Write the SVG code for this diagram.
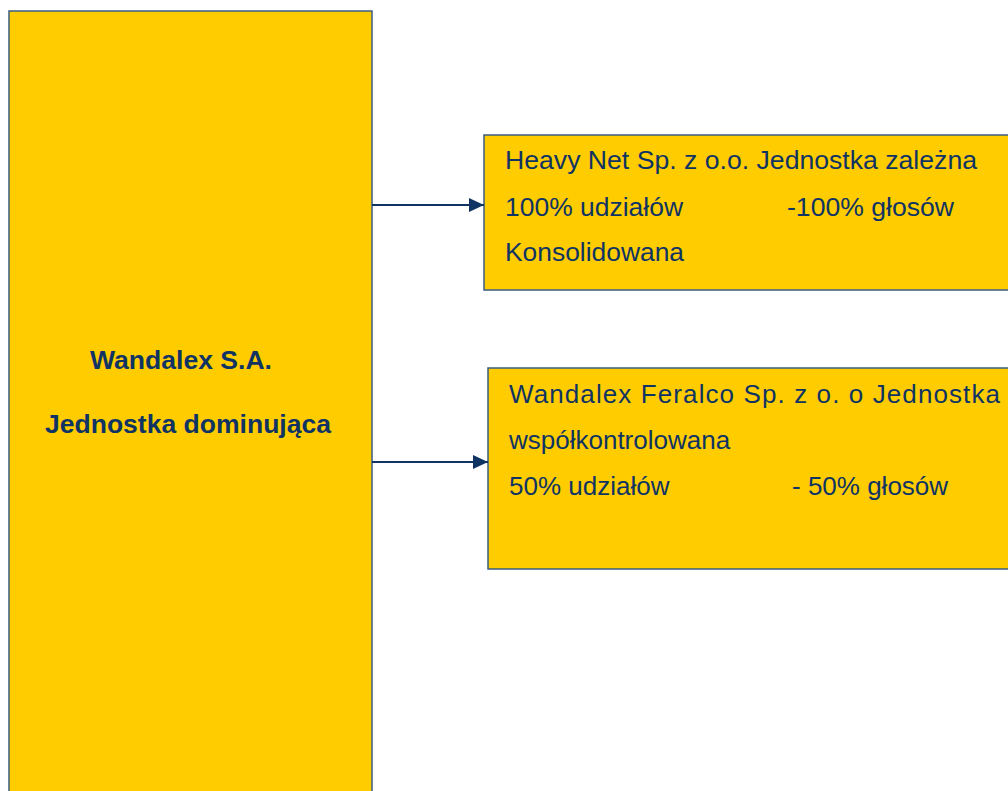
<svg xmlns="http://www.w3.org/2000/svg" width="1008" height="791" viewBox="0 0 1008 791">
<defs>
<style>
.box{fill:#FFCC00;stroke:#3B5C80;stroke-width:1.5}
.t{font-family:"Liberation Sans",Arial,sans-serif;font-size:26px;fill:#0F3463}
.b{font-weight:bold;font-size:25.5px}
.c{stroke:#0F3463;stroke-width:2;fill:none}
</style>
<marker id="ah" markerWidth="15" markerHeight="14" refX="15" refY="7" orient="auto" markerUnits="userSpaceOnUse">
<path d="M0,0 L15,7 L0,14 Z" fill="#0F3463"/>
</marker>
</defs>
<rect width="1008" height="791" fill="#fff"/>
<g id="parent">
<rect class="box" x="9" y="11" width="363" height="800"/>
<text class="t b" x="90" y="369" textLength="182" lengthAdjust="spacingAndGlyphs">Wandalex S.A.</text>
<text class="t b" x="45" y="433" textLength="286" lengthAdjust="spacingAndGlyphs">Jednostka dominująca</text>
</g>
<g id="heavynet">
<rect class="box" x="484" y="135" width="540" height="155"/>
<text class="t" x="505" y="169" textLength="472" lengthAdjust="spacingAndGlyphs">Heavy Net Sp. z o.o. Jednostka zależna</text>
<text class="t" x="505" y="216" textLength="178" lengthAdjust="spacingAndGlyphs">100% udziałów</text>
<text class="t" x="787" y="216" textLength="167" lengthAdjust="spacingAndGlyphs">-100% głosów</text>
<text class="t" x="505" y="261" textLength="179" lengthAdjust="spacingAndGlyphs">Konsolidowana</text>
</g>
<g id="feralco">
<rect class="box" x="488" y="368" width="540" height="201"/>
<text class="t" x="509" y="403" textLength="491" lengthAdjust="spacing">Wandalex Feralco Sp. z o. o Jednostka</text>
<text class="t" x="509" y="449">współkontrolowana</text>
<text class="t" x="509" y="495">50% udziałów</text>
<text class="t" x="792" y="495">- 50% głosów</text>
</g>
<g id="connectors">
<line class="c" x1="372" y1="205" x2="484" y2="205" marker-end="url(#ah)"/>
<line class="c" x1="372" y1="462" x2="488" y2="462" marker-end="url(#ah)"/>
</g>
</svg>
